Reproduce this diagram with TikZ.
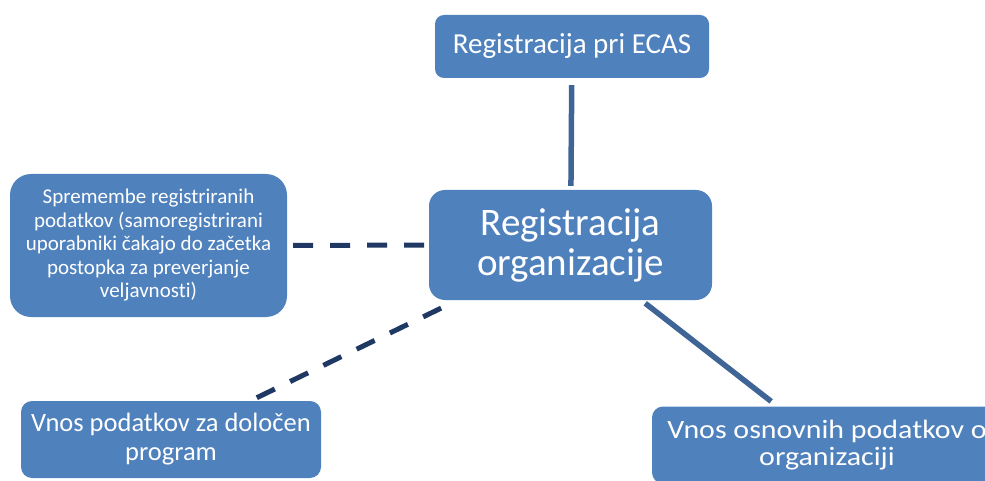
\documentclass[tikz,border=0pt]{standalone}
\usepackage{fontspec}
\setmainfont{Carlito}[Ligatures=NoCommon]
\newfontfamily\widefont{Carlito}[Ligatures=NoCommon,FakeStretch=1.13]
\usepackage{tikz}
\usetikzlibrary{positioning,calc}
\definecolor{boxblue}{HTML}{4F81BD}
\definecolor{lineblue}{HTML}{3E6595}
\definecolor{dashnavy}{HTML}{1F3864}

\begin{document}
\begin{tikzpicture}[x=1pt,y=-1pt]
\tikzstyle{every node}+=[inner sep=0pt]
\tikzstyle{box}=[fill=boxblue,text=white,align=center]
\tikzstyle{solidlink}=[draw=lineblue,line width=5.5pt]
\tikzstyle{dashlink}=[draw=dashnavy,line width=5pt,dash pattern=on 20pt off 17pt]
\useasboundingbox (0,0) rectangle (985,481);
\draw (572,46.5) node [box,minimum width=274pt,minimum height=63pt,rounded corners=9pt,font=\fontsize{29}{33}\selectfont] (ecas) {Registracija pri ECAS};
\draw (570.5,245) node [box,minimum width=283pt,minimum height=110pt,rounded corners=16pt,font=\fontsize{39}{40}\selectfont] (reg) {Registracija\\organizacije};
\draw (148.5,245.5) node [box,minimum width=277pt,minimum height=143pt,rounded corners=21pt,font=\fontsize{21}{23.5}\selectfont] (changes) {Spremembe registriranih\\podatkov (samoregistrirani\\uporabniki čakajo do začetka\\postopka za preverjanje\\veljavnosti)};
\draw (171,439.5) node [box,minimum width=300pt,minimum height=77pt,rounded corners=11pt,font=\fontsize{26.5}{29}\selectfont] (program) {Vnos podatkov za določen\\program};
\draw (827,445) node [box,minimum width=350pt,minimum height=77pt,rounded corners=11pt,font=\widefont\fontsize{26.5}{27}\selectfont] (basic) {Vnos osnovnih podatkov o\\organizaciji};
\draw [solidlink,shorten <=7pt,shorten >=4pt] (ecas) -- (reg);
\draw [dashlink,shorten <=6pt,shorten >=3pt] (changes) -- (reg);
\draw [dashlink,shorten <=7pt,shorten >=7pt] (program) -- (reg);
\draw [solidlink,shorten <=5pt,shorten >=8pt] (reg) -- (basic);
\end{tikzpicture}
\end{document}
